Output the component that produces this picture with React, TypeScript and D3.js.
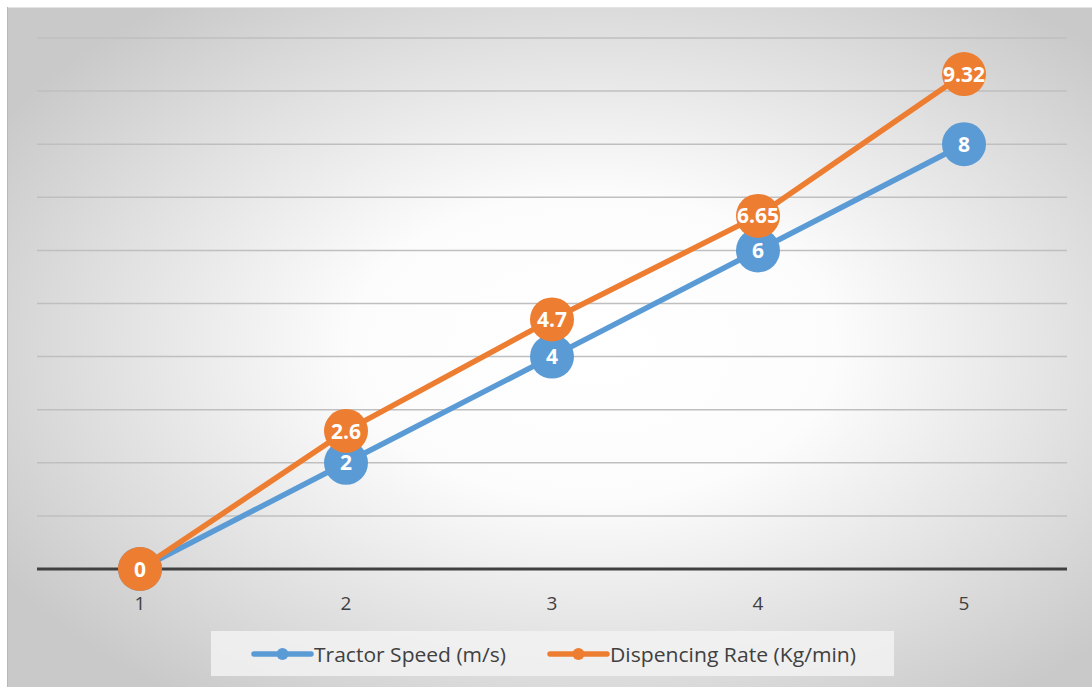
import React from "react";
import * as d3 from "d3";

// Chart data
const categories = ["1", "2", "3", "4", "5"];
const tractorSpeed = [0, 2, 4, 6, 8];
const dispensingRate = [0, 2.6, 4.7, 6.65, 9.32];
const seriesNames = ["Tractor Speed (m/s)", "Dispencing Rate (Kg/min)"];
const gridValues = [1, 2, 3, 4, 5, 6, 7, 8, 9, 10];

const W = 1092;
const H = 687;
const plot = { left: 37, right: 1067, top: 38, bottom: 569 };
const BLUE = "#5b9bd5";
const ORANGE = "#ed7d31";
const FONT = "'Open Sans', 'Noto Sans', sans-serif";

export default function App() {
  const x = d3
    .scaleBand<string>()
    .domain(categories)
    .range([plot.left, plot.right]);
  const y = d3.scaleLinear().domain([0, 10]).range([plot.bottom, plot.top]);
  const cx = (c: string) => (x(c) ?? 0) + x.bandwidth() / 2;

  const line = d3
    .line<number>()
    .x((_, i) => cx(categories[i]))
    .y((d) => y(d));

  const series = [
    { name: seriesNames[0], values: tractorSpeed, color: BLUE },
    { name: seriesNames[1], values: dispensingRate, color: ORANGE },
  ];

  const legendItems = [
    { name: seriesNames[0], color: BLUE, x0: 254, textW: 192 },
    { name: seriesNames[1], color: ORANGE, x0: 550, textW: 246 },
  ];

  return (
    <svg
      width={W}
      height={H}
      style={{ position: "absolute", left: 0, top: 0, display: "block" }}
    >
      <defs>
        <radialGradient
          id="bg"
          cx="0.54"
          cy="0.5"
          r="0.64"
          gradientUnits="objectBoundingBox"
        >
          <stop offset="0" stopColor="#ffffff" />
          <stop offset="0.35" stopColor="#fcfcfc" />
          <stop offset="0.75" stopColor="#dddddd" />
          <stop offset="1" stopColor="#c9c9c9" />
        </radialGradient>
      </defs>
      <rect x={0} y={0} width={W} height={H} fill="#ffffff" />
      <rect x={7} y={7} width={W - 7} height={H - 7} fill="url(#bg)" />
      <line x1={7} x2={W} y1={7.5} y2={7.5} stroke="#e4e4e4" strokeWidth={1} />
      <line x1={7.5} x2={7.5} y1={7} y2={H} stroke="#b8b8b8" strokeWidth={1} />

      {/* gridlines */}
      {gridValues.map((v) => (
        <line
          key={v}
          x1={plot.left}
          x2={plot.right}
          y1={y(v)}
          y2={y(v)}
          stroke="#bfbfbf"
          strokeWidth={1.5}
        />
      ))}
      {/* category axis */}
      <line
        x1={plot.left}
        x2={plot.right}
        y1={y(0)}
        y2={y(0)}
        stroke="#404040"
        strokeWidth={3}
      />
      {categories.map((c) => (
        <text
          key={c}
          x={cx(c)}
          y={610}
          textAnchor="middle"
          fontFamily={FONT}
          fontSize={19}
          fill="#404040"
        >
          {c}
        </text>
      ))}

      {/* series */}
      {series.map((s) => (
        <g key={s.name}>
          <path
            d={line(s.values) ?? ""}
            fill="none"
            stroke={s.color}
            strokeWidth={5.5}
            strokeLinejoin="round"
          />
          {s.values.map((v, i) => (
            <g key={i}>
              <circle cx={cx(categories[i])} cy={y(v)} r={22} fill={s.color} />
              <text
                x={cx(categories[i])}
                y={y(v)}
                dy="0.36em"
                textAnchor="middle"
                fontFamily={FONT}
                fontWeight={700}
                fontSize={21}
                fill="#ffffff"
              >
                {v}
              </text>
            </g>
          ))}
        </g>
      ))}

      {/* legend */}
      <rect x={211} y={631} width={683} height={45} fill="#f2f2f2" opacity={0.85} />
      {legendItems.map((it) => (
        <g key={it.name}>
          <line
            x1={it.x0}
            x2={it.x0 + 57}
            y1={654}
            y2={654}
            stroke={it.color}
            strokeWidth={5.5}
            strokeLinecap="round"
          />
          <circle cx={it.x0 + 28.5} cy={654} r={6} fill={it.color} />
          <text
            x={it.x0 + 60}
            y={662}
            fontFamily={FONT}
            fontSize={20}
            fill="#404040"
            textLength={it.textW}
            lengthAdjust="spacingAndGlyphs"
          >
            {it.name}
          </text>
        </g>
      ))}
    </svg>
  );
}
